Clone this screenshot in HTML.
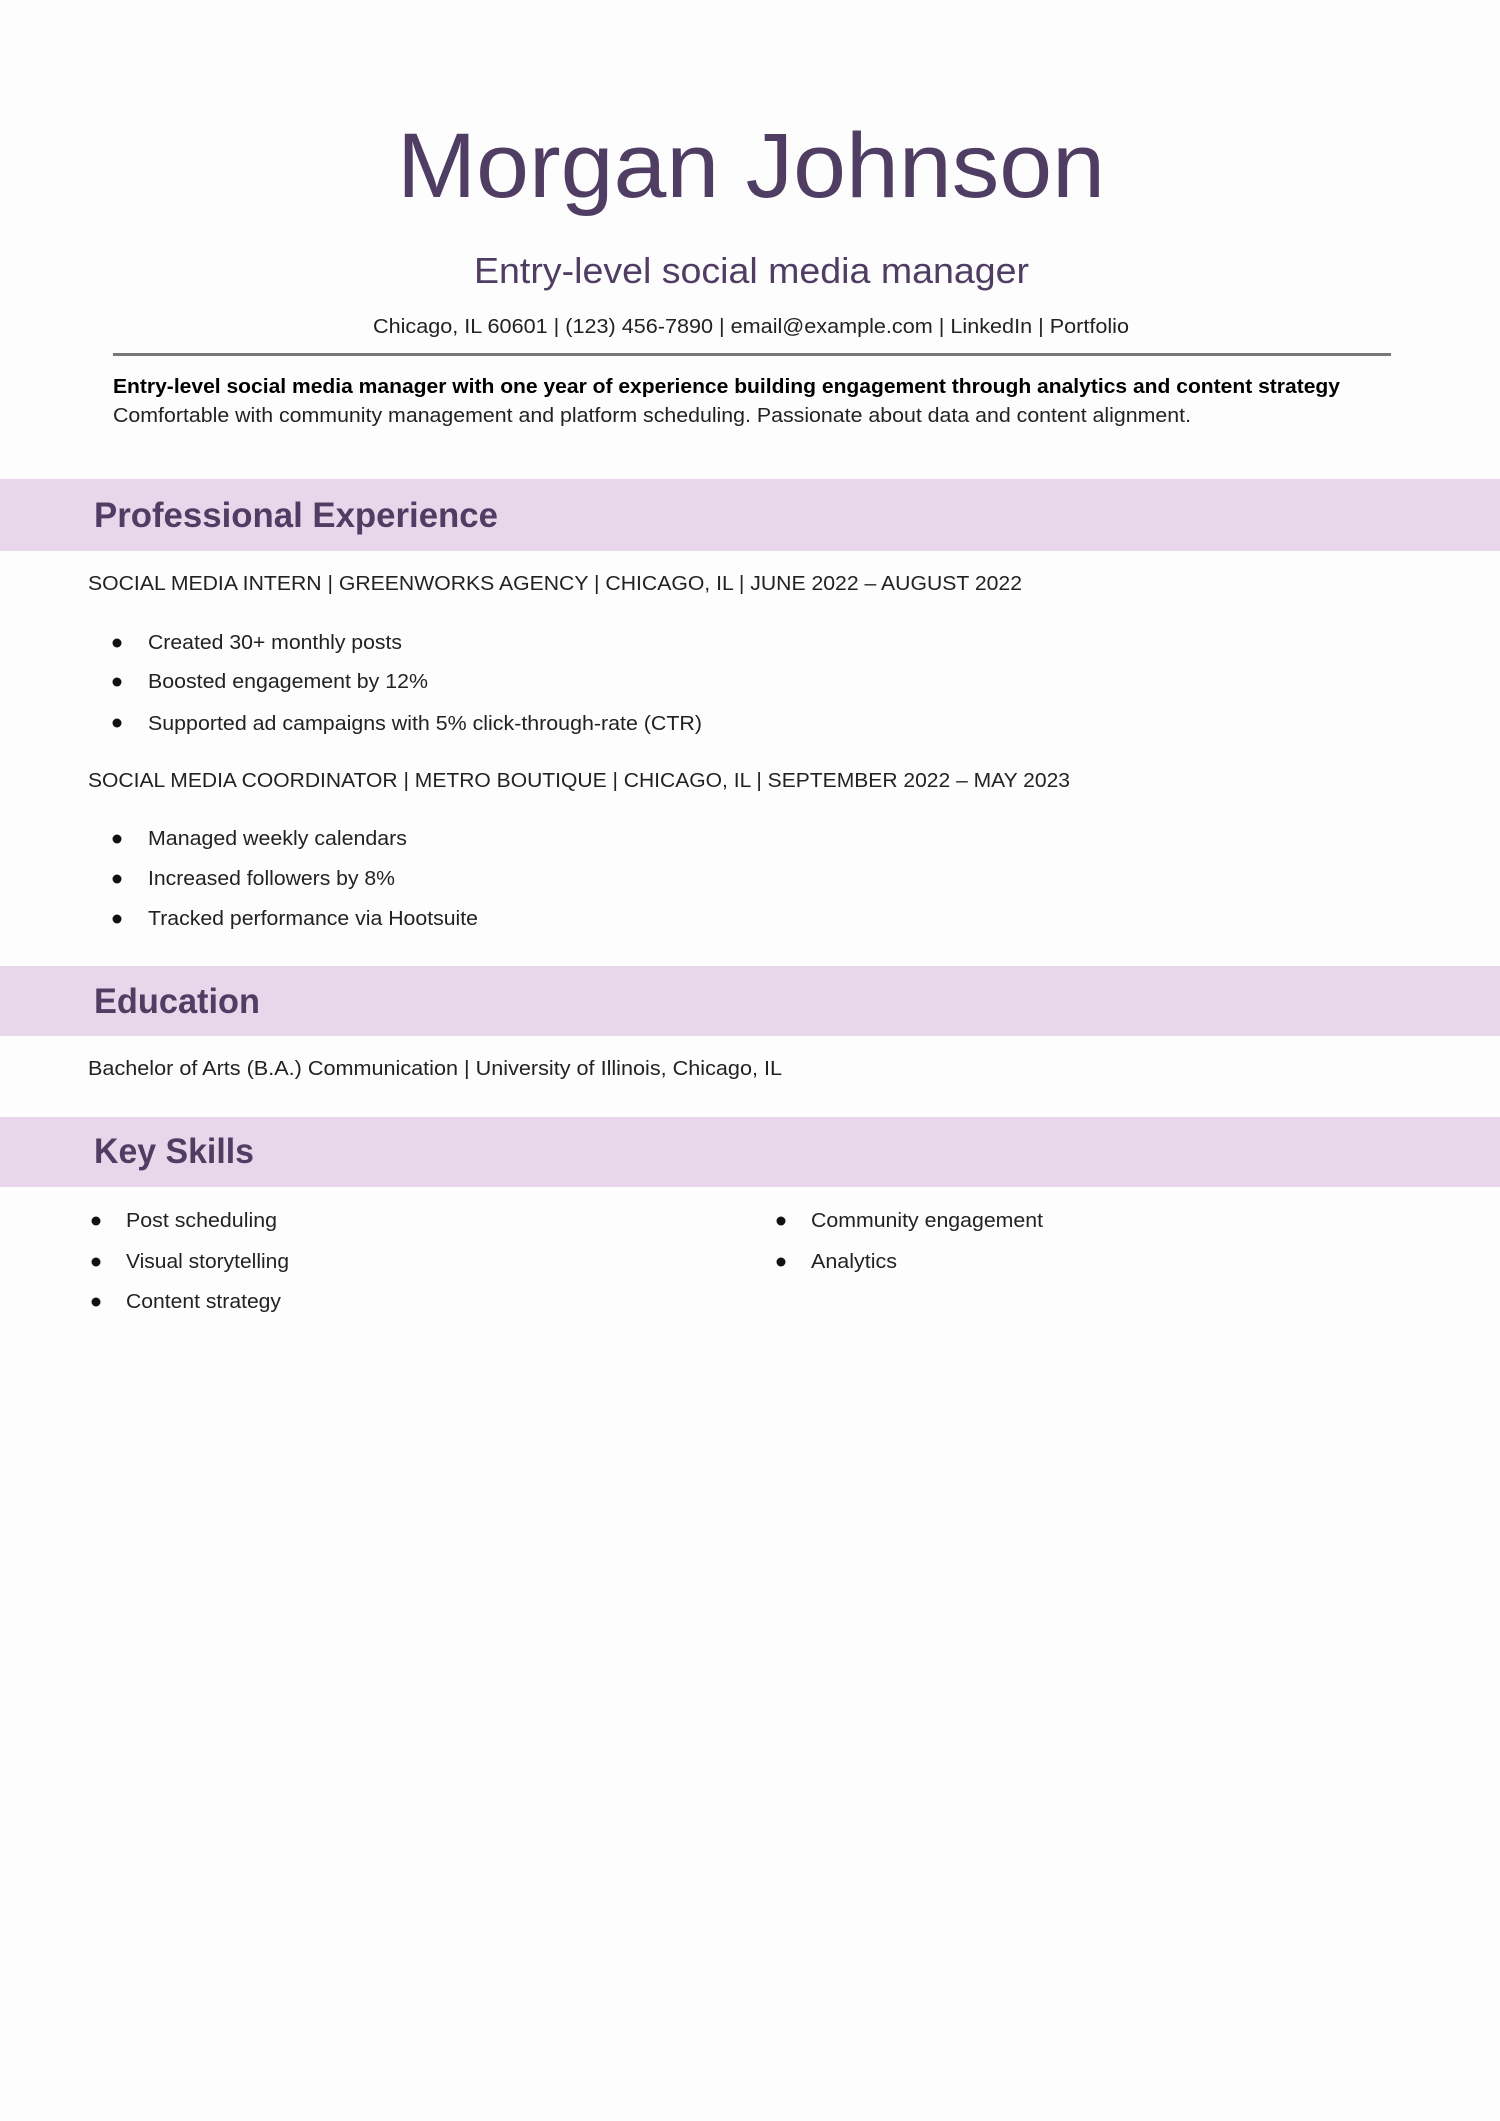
<!DOCTYPE html>
<html><head><meta charset="utf-8"><style>
html,body{margin:0;padding:0;background:#fdfdfd;}
svg{display:block;}
</style></head><body>
<svg width="1500" height="2121" viewBox="0 0 1500 2121" xmlns="http://www.w3.org/2000/svg" font-family="'Liberation Sans', sans-serif">
<rect width="1500" height="2121" fill="#fdfdfd"/>
<text x="397" y="197" font-size="92" fill="#4f3d63" textLength="708" lengthAdjust="spacingAndGlyphs">Morgan Johnson</text>
<text x="474" y="283" font-size="36" fill="#4f3d63" textLength="555" lengthAdjust="spacingAndGlyphs">Entry-level social media manager</text>
<text x="373" y="333" font-size="20" fill="#222" textLength="756" lengthAdjust="spacingAndGlyphs">Chicago, IL 60601 | (123) 456-7890 | email@example.com | LinkedIn | Portfolio</text>
<rect x="113" y="353" width="1278" height="3" fill="#777"/>
<text x="113" y="393" font-size="20" font-weight="bold" fill="#000" textLength="1227" lengthAdjust="spacingAndGlyphs">Entry-level social media manager with one year of experience building engagement through analytics and content strategy</text>
<text x="113" y="422" font-size="20" fill="#222" textLength="1078" lengthAdjust="spacingAndGlyphs">Comfortable with community management and platform scheduling. Passionate about data and content alignment.</text>

<rect x="0" y="479" width="1500" height="72" fill="#e8d7ea"/>
<text x="94" y="527" font-size="35" font-weight="bold" fill="#4f3d63" textLength="404" lengthAdjust="spacingAndGlyphs">Professional Experience</text>
<text x="88" y="590" font-size="20" fill="#222" textLength="934" lengthAdjust="spacingAndGlyphs">SOCIAL MEDIA INTERN | GREENWORKS AGENCY | CHICAGO, IL | JUNE 2022 – AUGUST 2022</text>
<g fill="#111">
<circle cx="117" cy="643" r="4.5"/><circle cx="117" cy="682" r="4.5"/><circle cx="117" cy="723" r="4.5"/>
<circle cx="117" cy="839" r="4.5"/><circle cx="117" cy="879" r="4.5"/><circle cx="117" cy="919" r="4.5"/>
</g>
<g font-size="20" fill="#222">
<text x="148" y="649" textLength="254" lengthAdjust="spacingAndGlyphs">Created 30+ monthly posts</text>
<text x="148" y="688" textLength="280" lengthAdjust="spacingAndGlyphs">Boosted engagement by 12%</text>
<text x="148" y="730" textLength="554" lengthAdjust="spacingAndGlyphs">Supported ad campaigns with 5% click-through-rate (CTR)</text>
<text x="88" y="787" textLength="982" lengthAdjust="spacingAndGlyphs">SOCIAL MEDIA COORDINATOR | METRO BOUTIQUE | CHICAGO, IL | SEPTEMBER 2022 – MAY 2023</text>
<text x="148" y="845" textLength="259" lengthAdjust="spacingAndGlyphs">Managed weekly calendars</text>
<text x="148" y="885" textLength="247" lengthAdjust="spacingAndGlyphs">Increased followers by 8%</text>
<text x="148" y="925" textLength="330" lengthAdjust="spacingAndGlyphs">Tracked performance via Hootsuite</text>
</g>

<rect x="0" y="966" width="1500" height="70" fill="#e8d7ea"/>
<text x="94" y="1013" font-size="35" font-weight="bold" fill="#4f3d63" textLength="166" lengthAdjust="spacingAndGlyphs">Education</text>
<text x="88" y="1075" font-size="20" fill="#222" textLength="694" lengthAdjust="spacingAndGlyphs">Bachelor of Arts (B.A.) Communication |  University of Illinois, Chicago, IL</text>

<rect x="0" y="1117" width="1500" height="70" fill="#e8d7ea"/>
<text x="94" y="1163" font-size="35" font-weight="bold" fill="#4f3d63" textLength="160" lengthAdjust="spacingAndGlyphs">Key Skills</text>
<g fill="#111">
<circle cx="96" cy="1221" r="4.5"/><circle cx="96" cy="1262" r="4.5"/><circle cx="96" cy="1302" r="4.5"/>
<circle cx="781" cy="1221" r="4.5"/><circle cx="781" cy="1262" r="4.5"/>
</g>
<g font-size="20" fill="#222">
<text x="126" y="1227" textLength="151" lengthAdjust="spacingAndGlyphs">Post scheduling</text>
<text x="126" y="1268" textLength="163" lengthAdjust="spacingAndGlyphs">Visual storytelling</text>
<text x="126" y="1308" textLength="155" lengthAdjust="spacingAndGlyphs">Content strategy</text>
<text x="811" y="1227" textLength="232" lengthAdjust="spacingAndGlyphs">Community engagement</text>
<text x="811" y="1268" textLength="86" lengthAdjust="spacingAndGlyphs">Analytics</text>
</g>
</svg>
</body></html>
